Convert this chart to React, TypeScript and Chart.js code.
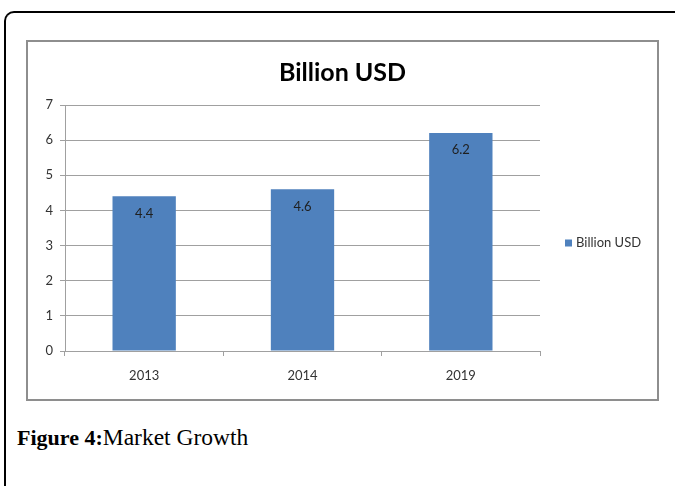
import React, { useEffect, useRef } from "react";
import { Chart, registerables } from "chart.js";

Chart.register(...registerables);

const categories: string[] = ["2013", "2014", "2019"];
const seriesName = "Billion USD";
const seriesValues: number[] = [4.4, 4.6, 6.2];
const yTicks: number[] = [0, 1, 2, 3, 4, 5, 6, 7];
const chartTitle = "Billion USD";
const captionBold = "Figure 4:";
const captionText = "Market Growth";

const FONT = "Lato, 'Open Sans', sans-serif";
const BAR = "#4F81BD";
const GRID = "#a0a0a0";
const TEXT = "#333333";

const valueLabels = {
  id: "valueLabels",
  afterDatasetsDraw(chart: any) {
    const ctx = chart.ctx;
    ctx.save();
    ctx.font = `13px ${FONT}`;
    ctx.fillStyle = "#1f1f1f";
    ctx.textAlign = "center";
    ctx.textBaseline = "middle";
    chart.data.datasets.forEach((ds: any, di: number) => {
      const meta = chart.getDatasetMeta(di);
      meta.data.forEach((bar: any, i: number) => {
        ctx.fillText(String(ds.data[i]), bar.x, bar.y + 17);
      });
    });
    ctx.restore();
  },
};

const sideLegend = {
  id: "sideLegend",
  afterDraw(chart: any) {
    const ctx = chart.ctx;
    const area = chart.chartArea;
    const cy = (area.top + area.bottom) / 2 + 15;
    const x0 = area.right + 25;
    ctx.save();
    chart.data.datasets.forEach((ds: any) => {
      ctx.fillStyle = ds.backgroundColor;
      ctx.fillRect(x0, cy - 3.5, 7, 7);
      ctx.font = `13px ${FONT}`;
      ctx.fillStyle = TEXT;
      ctx.textAlign = "left";
      ctx.textBaseline = "middle";
      ctx.fillText(ds.label, x0 + 11, cy);
    });
    ctx.restore();
  },
};

const canvasTitle = {
  id: "canvasTitle",
  afterDraw(chart: any) {
    const ctx = chart.ctx;
    ctx.save();
    ctx.font = `bold 25px ${FONT}`;
    ctx.fillStyle = "#000000";
    ctx.textAlign = "center";
    ctx.textBaseline = "middle";
    ctx.fillText(chartTitle, chart.width / 2, chart.chartArea.top - 32);
    ctx.restore();
  },
};

export default function App() {
  const ref = useRef<HTMLCanvasElement | null>(null);

  useEffect(() => {
    if (!ref.current) return;
    const chart = new Chart(ref.current, {
      type: "bar",
      data: {
        labels: categories,
        datasets: [
          {
            label: seriesName,
            data: seriesValues,
            backgroundColor: BAR,
            barPercentage: 0.4,
            categoryPercentage: 1,
          },
        ],
      },
      options: {
        animation: false,
        responsive: false,
        devicePixelRatio: 1,
        layout: { padding: { left: 0, right: 117, top: 63, bottom: 0 } },
        plugins: {
          legend: { display: false },
          tooltip: { enabled: false },
          title: { display: false },
        },
        scales: {
          x: {
            grid: {
              display: true,
              drawOnChartArea: false,
              drawTicks: true,
              tickLength: 5,
              color: GRID,
              offset: true,
            },
            border: { display: true, color: GRID },
            ticks: { padding: 12, color: TEXT, font: { family: FONT, size: 13 } },
            afterFit: (s: any) => {
              s.height = 48;
            },
          },
          y: {
            min: yTicks[0],
            max: yTicks[yTicks.length - 1],
            afterBuildTicks: (s: any) => {
              s.ticks = yTicks.map((v) => ({ value: v }));
            },
            grid: { color: GRID, tickLength: 5, drawTicks: true },
            border: { display: true, color: GRID },
            ticks: { padding: 7, color: TEXT, font: { family: FONT, size: 13 } },
            afterFit: (s: any) => {
              s.width = 37;
            },
          },
        },
      },
      plugins: [valueLabels, sideLegend, canvasTitle],
    });
    return () => chart.destroy();
  }, []);

  return (
    <div
      style={{
        position: "fixed",
        left: 0,
        top: 0,
        width: 675,
        height: 486,
        overflow: "hidden",
        background: "#ffffff",
      }}
    >
      <div
        style={{
          position: "absolute",
          left: 4,
          top: 11,
          width: 720,
          height: 520,
          borderTop: "2px solid #000",
          borderLeft: "2px solid #000",
          borderTopLeftRadius: 10,
          boxSizing: "border-box",
        }}
      />
      <div
        style={{
          position: "absolute",
          left: 26,
          top: 40,
          width: 633,
          height: 361,
          border: "2px solid #8e8e8e",
          boxSizing: "border-box",
        }}
      >
        <canvas ref={ref} width={629} height={357} style={{ display: "block" }} />
      </div>
      <div
        style={{
          position: "absolute",
          left: 17,
          top: 424,
          fontFamily: "'Liberation Serif', serif",
          fontSize: 23.5,
          lineHeight: "26px",
          color: "#000",
          whiteSpace: "nowrap",
        }}
      >
        <b style={{ fontSize: 22 }}>{captionBold}</b>
        {captionText}
      </div>
    </div>
  );
}
